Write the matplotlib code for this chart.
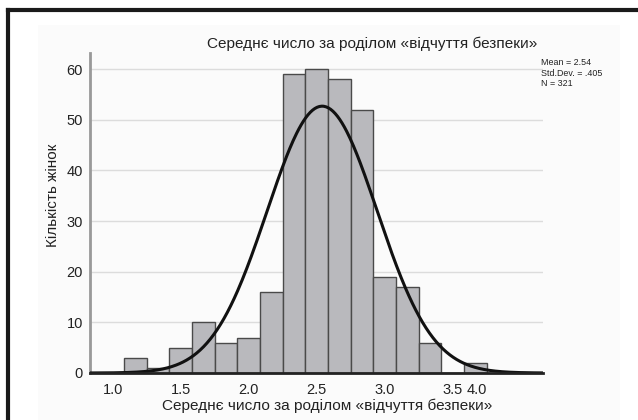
import numpy as np
import matplotlib
matplotlib.use("Agg")
import matplotlib.pyplot as plt
from matplotlib.patches import Rectangle
from matplotlib.lines import Line2D

# ---- data ----
bin_centers = [7/6, 8/6, 9/6, 10/6, 11/6, 12/6, 13/6, 14/6, 15/6, 16/6,
               17/6, 18/6, 19/6, 20/6, 21/6, 22/6]
counts = [3, 1, 5, 10, 6, 7, 16, 59, 60, 58, 52, 19, 17, 6, 0, 2]
bin_width = 1/6
mean_val = 2.54
sd_val = 0.405
n_val = 321
x_tick_pos = [1.0, 1.5, 2.0, 2.5, 3.0, 3.5, 3.68]
x_tick_labels = ["1.0", "1.5", "2.0", "2.5", "3.0", "3.5", "4.0"]
y_ticks = [0, 10, 20, 30, 40, 50, 60]
title = "Середнє число за роділом «відчуття безпеки»"
xlabel = "Середнє число за роділом «відчуття безпеки»"
ylabel = "Кількість жінок"
stats_text = "Mean = 2.54\nStd.Dev. = .405\nN = 321"

plt.rcParams['font.family'] = ['Liberation Sans', 'DejaVu Sans']

W, H = 638, 420
fig = plt.figure(figsize=(W/100, H/100), dpi=100)
fig.patch.set_facecolor("white")

# light chart background
bg = Rectangle((38/W, 0), (620-38)/W, (420-25)/H, transform=fig.transFigure,
               facecolor="#fbfbfb", edgecolor="none", zorder=-5)
fig.add_artist(bg)
# outer frame (top and left)
fig.add_artist(Line2D([8/W, 1.0], [1-10/H, 1-10/H], color="#1a1a1a", lw=3, transform=fig.transFigure))
fig.add_artist(Line2D([8/W, 8/W], [0, 1-10/H], color="#1a1a1a", lw=3, transform=fig.transFigure))

ax = fig.add_axes([90/W, (420-373)/H, 453/W, 320/H])
ax.set_zorder(2)
ax.set_facecolor("none")

ax.bar(bin_centers, counts, width=bin_width, color="#b9b9bd", edgecolor="#4a4a4a",
       linewidth=1.0, zorder=3)

xs = np.linspace(0.833, 4.164, 400)
ys = n_val * bin_width / (sd_val * np.sqrt(2*np.pi)) * np.exp(-0.5*((xs-mean_val)/sd_val)**2)
ax.plot(xs, ys, color="#111111", lw=2.2, zorder=4)

ax.set_xlim(0.833, 4.164)
ax.set_ylim(0, 63.2)
ax.set_yticks(y_ticks)
ax.set_xticks(x_tick_pos)
ax.set_xticklabels(x_tick_labels)
ax.tick_params(axis="both", length=0, labelsize=10.5, colors="#222222")
ax.tick_params(axis="x", pad=7)
ax.tick_params(axis="y", pad=5)
ax.yaxis.grid(True, color="#dcdcdc", lw=1.0, zorder=0)
ax.set_axisbelow(True)
for s in ["top", "right"]:
    ax.spines[s].set_visible(False)
ax.spines["left"].set_color("#999999")
ax.spines["left"].set_linewidth(2)
ax.spines["bottom"].set_color("#222222")
ax.spines["bottom"].set_linewidth(2)
ax.spines["bottom"].set_zorder(5)

fig.text(372/W, 1-44/H, title, ha="center", va="center", fontsize=11.1, color="#222222")
fig.text(327/W, 1-406/H, xlabel, ha="center", va="center", fontsize=11.1, color="#222222")
fig.text(53/W, 1-195/H, ylabel, ha="center", va="center", rotation=90, fontsize=11.0, color="#222222")
fig.text(541/W, 1-58/H, stats_text, ha="left", va="top", fontsize=6.4, color="#222222",
         linespacing=1.25)

fig.savefig("out.png", dpi=100)
